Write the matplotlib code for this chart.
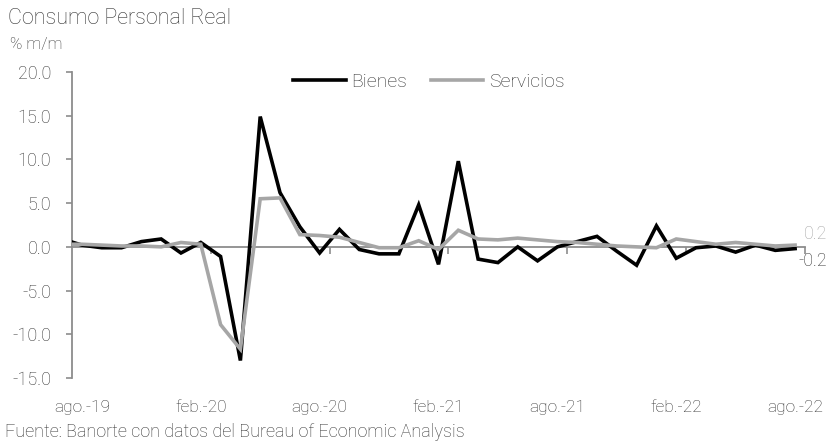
import matplotlib
matplotlib.use("Agg")
import matplotlib.pyplot as plt
import matplotlib.transforms as mtransforms
import numpy as np

# Monthly real personal consumption, % m/m (jul-19 .. ago-22)
months = [
    "jul.-19", "ago.-19", "sep.-19", "oct.-19", "nov.-19", "dic.-19",
    "ene.-20", "feb.-20", "mar.-20", "abr.-20", "may.-20", "jun.-20",
    "jul.-20", "ago.-20", "sep.-20", "oct.-20", "nov.-20", "dic.-20",
    "ene.-21", "feb.-21", "mar.-21", "abr.-21", "may.-21", "jun.-21",
    "jul.-21", "ago.-21", "sep.-21", "oct.-21", "nov.-21", "dic.-21",
    "ene.-22", "feb.-22", "mar.-22", "abr.-22", "may.-22", "jun.-22",
    "jul.-22", "ago.-22",
]
bienes = [
    0.9, 0.2, -0.1, -0.1, 0.6, 0.9,
    -0.7, 0.5, -1.1, -13.0, 14.9, 6.2, 2.3, -0.7, 2.0, -0.3, -0.8, -0.8,
    4.8, -2.0, 9.8, -1.4, -1.8, 0.0, -1.6, 0.0, 0.6, 1.2, -0.5, -2.1,
    2.4, -1.3, -0.1, 0.1, -0.6, 0.2, -0.4, -0.2,
]
servicios = [
    0.3, 0.3, 0.2, 0.1, 0.1, 0.0,
    0.5, 0.3, -8.9, -11.7, 5.5, 5.6, 1.4, 1.3, 1.1, 0.5, -0.1, -0.1,
    0.7, -0.3, 1.9, 0.9, 0.8, 1.0, 0.8, 0.6, 0.5, 0.3, 0.1, 0.0,
    -0.1, 0.9, 0.6, 0.3, 0.5, 0.3, 0.1, 0.2,
]
shown_labels = ["ago.-19", "feb.-20", "ago.-20", "feb.-21", "ago.-21", "feb.-22", "ago.-22"]
yticks = [20.0, 15.0, 10.0, 5.0, 0.0, -5.0, -10.0, -15.0]

FONT = ["Roboto", "DejaVu Sans"]
TXT = "#333333"
AX = "#8c8c8c"
BLACK = "#000000"
GRAY = "#a6a6a6"

plt.rcParams["font.family"] = FONT
plt.rcParams["font.weight"] = "light"

fig = plt.figure(figsize=(8.28, 4.44), dpi=100)
ax = fig.add_axes([72 / 828, 1 - 378 / 444, (805 - 72) / 828, (378 - 72) / 444])

x = np.arange(len(months))
ax.plot(x, bienes, color=BLACK, lw=2.6, solid_joinstyle="miter", label="Bienes", zorder=3)
ax.plot(x, servicios, color=GRAY, lw=2.6, solid_joinstyle="miter", label="Servicios", zorder=4)

ax.set_xlim(0.5, 37.4)
ax.set_ylim(-15, 20)

# axes: left spine plus a horizontal axis through zero
for s in ("top", "right"):
    ax.spines[s].set_visible(False)
ax.spines["bottom"].set_position(("data", 0))
for s in ("left", "bottom"):
    ax.spines[s].set_color(AX)
    ax.spines[s].set_linewidth(1.3)

ax.set_yticks(yticks)
ax.set_yticklabels([f"{v:.1f}" for v in yticks])
ax.tick_params(axis="y", direction="out", length=4, width=1.2, color=AX,
               labelsize=13, labelcolor=TXT, pad=11)

tick_pos = [months.index(m) + 0.5 for m in shown_labels[1:]]
ax.set_xticks(tick_pos)
ax.set_xticklabels([])
ax.tick_params(axis="x", direction="out", length=5, width=1.2, color=AX)

# month labels sit below the plot area
trans = mtransforms.blended_transform_factory(ax.transData, ax.transAxes)
for m in shown_labels:
    ax.text(months.index(m), -0.098, m, transform=trans, ha="center", va="center",
            fontsize=12.5, color=TXT)

# last values
ax.text(37.45, servicios[-1] + 1.3, f"{servicios[-1]:.1f}", ha="left", va="center",
        fontsize=12.8, color=GRAY, clip_on=False)
ax.text(37.15, bienes[-1] - 1.4, f"{bienes[-1]:.1f}", ha="left", va="center",
        fontsize=12.8, color=TXT, clip_on=False)

leg = ax.legend(loc="upper center", bbox_to_anchor=(0.487, 1.055), ncol=2, frameon=False,
                fontsize=14, handlelength=2.7, columnspacing=1.2, handletextpad=0.3)
for t in leg.get_texts():
    t.set_color(TXT)

fig.text(8 / 828, 1 - 18 / 444, "Consumo Personal Real", fontsize=15.5, color=TXT,
         ha="left", va="center")
fig.text(10 / 828, 1 - 45 / 444, "% m/m", fontsize=12, color=TXT, ha="left", va="center")
fig.text(5 / 828, 1 - 432 / 444, "Fuente: Banorte con datos del Bureau of Economic Analysis",
         fontsize=13, color=TXT, ha="left", va="center")

fig.savefig("out.png", dpi=100)
